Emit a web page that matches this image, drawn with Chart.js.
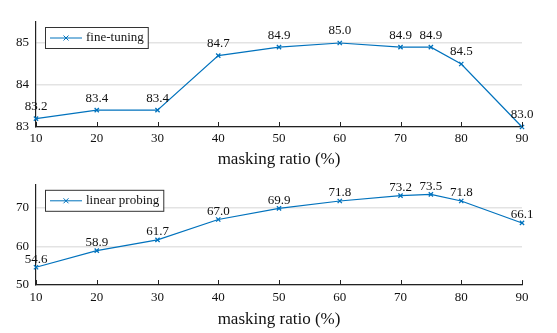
<!DOCTYPE html>
<html>
<head>
<meta charset="utf-8">
<script src="https://cdn.jsdelivr.net/npm/chart.js@4"></script>
<style>
  html, body { margin: 0; padding: 0; background: #fff; }
  #wrap { position: relative; width: 557px; height: 333px; }
  .box { position: absolute; left: 0; width: 557px; }
  #topBox { top: 0; height: 170px; }
  #bottomBox { top: 170px; height: 163px; }
</style>
</head>
<body>
<div id="wrap">
  <div class="box" id="topBox"><canvas id="fineChart"></canvas></div>
  <div class="box" id="bottomBox"><canvas id="linearChart"></canvas></div>
</div>
<script>
// masking ratio (%) for each run
const maskingRatios = [10, 20, 30, 40, 50, 60, 70, 75, 80, 90];
const xTicks = [10, 20, 30, 40, 50, 60, 70, 80, 90];

const fineTuning = [83.2, 83.4, 83.4, 84.7, 84.9, 85.0, 84.9, 84.9, 84.5, 83.0];
const fineTicks = [83, 84, 85];

const linearProbing = [54.6, 58.9, 61.7, 67.0, 69.9, 71.8, 73.2, 73.5, 71.8, 66.1];
const linearTicks = [50, 60, 70];

const lineColor = 'rgb(0,114,189)';
const serif = "'Liberation Serif', 'DejaVu Serif', serif";

// value labels, boxed legend and inward x ticks
const decorations = {
    id: 'decorations',
    afterDatasetsDraw(chart, args, opts) {
        const ctx = chart.ctx;
        const meta = chart.getDatasetMeta(0);
        const ds = chart.data.datasets[0];
        const area = chart.chartArea;

        ctx.save();
        // inward ticks on the x axis
        const xs = chart.scales.x;
        ctx.strokeStyle = '#222';
        ctx.lineWidth = 1;
        xs.ticks.forEach(t => {
            const px = Math.round(xs.getPixelForValue(t.value)) + 0.5;
            ctx.beginPath();
            ctx.moveTo(px, area.bottom);
            ctx.lineTo(px, area.bottom - 5);
            ctx.stroke();
        });

        // labels above each point
        ctx.font = '13px ' + serif;
        ctx.fillStyle = '#111';
        ctx.textAlign = 'center';
        ctx.textBaseline = 'middle';
        meta.data.forEach((pt, i) => {
            ctx.fillText(ds.data[i].y.toFixed(1), pt.x, pt.y - opts.offset);
        });

        // legend box
        const lx = area.left + 9, ly = area.top + 5;
        ctx.font = '13px ' + serif;
        const tw = ctx.measureText(ds.label).width;
        const w = 41 + tw + 4, h = 21;
        ctx.fillStyle = '#fff';
        ctx.fillRect(lx, ly, w, h);
        ctx.strokeStyle = '#333';
        ctx.strokeRect(lx + 0.5, ly + 0.5, w, h);
        const cy = ly + h / 2 + 0.5;
        ctx.strokeStyle = lineColor;
        ctx.beginPath();
        ctx.moveTo(lx + 5, cy);
        ctx.lineTo(lx + 37, cy);
        ctx.stroke();
        const mx = lx + 21;
        ctx.beginPath();
        ctx.moveTo(mx - 2.5, cy - 2.5); ctx.lineTo(mx + 2.5, cy + 2.5);
        ctx.moveTo(mx - 2.5, cy + 2.5); ctx.lineTo(mx + 2.5, cy - 2.5);
        ctx.stroke();
        ctx.fillStyle = '#111';
        ctx.textAlign = 'left';
        ctx.fillText(ds.label, lx + 41, cy);
        ctx.restore();
    }
};

function makeChart(id, label, values, yTicks, yMin, yMax, layoutPad, axisHeight, tickPad, titlePad, labelOffset) {
    return new Chart(document.getElementById(id), {
        type: 'line',
        data: {
            datasets: [{
                label: label,
                data: maskingRatios.map((x, i) => ({ x: x, y: values[i] })),
                borderColor: lineColor,
                backgroundColor: lineColor,
                borderWidth: 1.2,
                pointStyle: 'crossRot',
                pointRadius: 3,
                pointBorderWidth: 1.3,
                pointBorderColor: lineColor,
                tension: 0,
                clip: false
            }]
        },
        options: {
            responsive: true,
            maintainAspectRatio: false,
            animation: false,
            events: [],
            layout: { padding: layoutPad },
            plugins: {
                legend: { display: false },
                tooltip: { enabled: false },
                decorations: { offset: labelOffset }
            },
            scales: {
                x: {
                    type: 'linear',
                    min: 10,
                    max: 90,
                    afterBuildTicks: s => { s.ticks = xTicks.map(v => ({ value: v })); },
                    afterFit: s => { s.height = axisHeight; },
                    grid: { display: false, drawTicks: false },
                    border: { display: true, color: '#222', width: 1.2 },
                    ticks: {
                        padding: tickPad,
                        color: '#111',
                        font: { family: serif, size: 13 }
                    },
                    title: {
                        display: true,
                        text: 'masking ratio (%)',
                        color: '#111',
                        padding: { top: 0, bottom: titlePad },
                        font: { family: serif, size: 17 }
                    }
                },
                y: {
                    min: yMin,
                    max: yMax,
                    afterBuildTicks: s => { s.ticks = yTicks.map(v => ({ value: v })); },
                    afterFit: s => { s.width = 36; },
                    grid: { color: '#e3e3e3', lineWidth: 1.5, drawTicks: false },
                    border: { display: true, color: '#222', width: 1.2 },
                    ticks: {
                        padding: 7,
                        color: '#111',
                        font: { family: serif, size: 13 }
                    }
                }
            }
        },
        plugins: [decorations]
    });
}

makeChart('fineChart', 'fine-tuning', fineTuning, fineTicks, 83, 85.5,
    { top: 22, right: 35, bottom: 0, left: 0 }, 43, 4, 0, 12);
makeChart('linearChart', 'linear probing', linearProbing, linearTicks, 50, 76,
    { top: 10, right: 35, bottom: 0, left: 0 }, 48, 5, 3, 8);
</script>
</body>
</html>
